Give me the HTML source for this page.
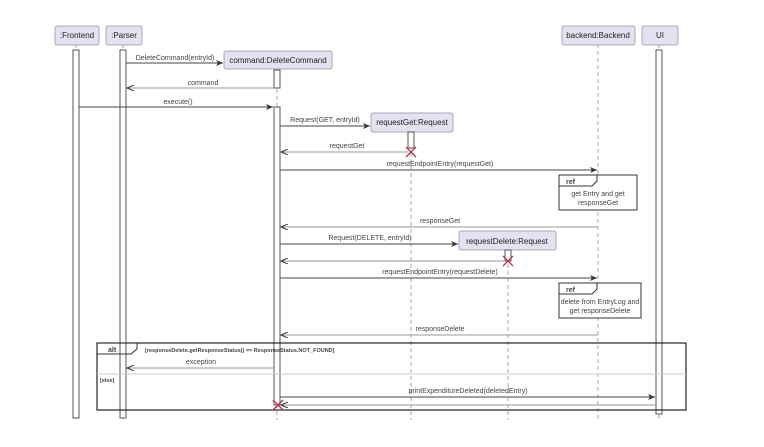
<!DOCTYPE html>
<html><head><meta charset="utf-8"><style>
html,body{margin:0;padding:0;background:#fff;}
svg{display:block;font-family:"Liberation Sans",sans-serif;}
.b{fill:#e2e2f0;stroke:#a8a8b8;stroke-width:1;}
.a{fill:#fff;stroke:#555;stroke-width:1;}
.ll{stroke:#aaa;stroke-width:1;stroke-dasharray:4,3;}
.m{stroke:#444;stroke-width:1;fill:none;}
.r{stroke:#999;stroke-width:1;fill:none;}
text{font-size:7px;fill:#444;}
.t{font-size:8px;fill:#222;}
</style></head><body>
<svg width="764" height="447" viewBox="0 0 764 447">
<defs>
<marker id="ah" markerWidth="8" markerHeight="6" refX="7" refY="3" orient="auto" markerUnits="userSpaceOnUse"><path d="M0,0 L7,3 L0,6 L2,3 Z" fill="#333"/></marker>
<marker id="ao" markerWidth="8" markerHeight="6" refX="7" refY="3" orient="auto" markerUnits="userSpaceOnUse"><path d="M0,0 L7,3 L0,6" fill="none" stroke="#333"/></marker>
</defs>
<line class="ll" x1="76" y1="44" x2="76" y2="420"/>
<line class="ll" x1="123" y1="44" x2="123" y2="420"/>
<line class="ll" x1="277" y1="68" x2="277" y2="420"/>
<line class="ll" x1="411" y1="131" x2="411" y2="420"/>
<line class="ll" x1="508" y1="250" x2="508" y2="420"/>
<line class="ll" x1="598" y1="44" x2="598" y2="420"/>
<line class="ll" x1="659" y1="44" x2="659" y2="420"/>
<rect class="b" x="55" y="26" width="44" height="19" rx="2"/><text class="t" x="77" y="38" text-anchor="middle">:Frontend</text>
<rect class="b" x="106" y="26" width="36" height="19" rx="2"/><text class="t" x="124" y="38" text-anchor="middle">:Parser</text>
<rect class="b" x="562" y="26" width="73" height="19" rx="2"/><text class="t" x="598" y="38" text-anchor="middle">backend:Backend</text>
<rect class="b" x="642" y="26" width="36" height="19" rx="2"/><text class="t" x="660" y="38" text-anchor="middle">UI</text>
<rect class="b" x="224" y="51" width="108" height="18" rx="2"/><text class="t" x="278" y="63" text-anchor="middle">command:DeleteCommand</text>
<rect class="b" x="371" y="113" width="82" height="19" rx="2"/><text class="t" x="412" y="125" text-anchor="middle">requestGet:Request</text>
<rect class="b" x="459" y="231" width="97" height="19" rx="2"/><text class="t" x="507" y="244" text-anchor="middle">requestDelete:Request</text>
<rect class="a" x="73" y="50" width="6" height="368"/>
<rect class="a" x="120" y="50" width="6" height="368"/>
<rect class="a" x="656" y="50" width="6" height="364"/>
<rect class="a" x="274" y="70" width="6" height="18"/>
<rect class="a" x="274" y="107" width="6" height="298"/>
<rect class="a" x="408" y="132" width="6" height="16"/>
<rect class="a" x="505" y="250" width="6" height="11"/>
<line class="m" x1="126" y1="63" x2="223" y2="63" marker-end="url(#ah)"/><text x="175" y="60" text-anchor="middle">DeleteCommand(entryId)</text>
<line class="r" x1="274" y1="88" x2="127" y2="88" marker-end="url(#ao)"/><text x="203" y="85" text-anchor="middle">command</text>
<line class="m" x1="79" y1="107" x2="273" y2="107" marker-end="url(#ah)"/><text x="178" y="104" text-anchor="middle">execute()</text>
<line class="m" x1="280" y1="126" x2="370" y2="126" marker-end="url(#ah)"/><text x="325" y="122" text-anchor="middle">Request(GET, entryId)</text>
<line class="r" x1="408" y1="152" x2="281" y2="152" marker-end="url(#ao)"/><text x="347" y="148" text-anchor="middle">requestGet</text>
<line class="m" x1="280" y1="170" x2="597" y2="170" marker-end="url(#ah)"/><text x="440" y="166" text-anchor="middle">requestEndpointEntry(requestGet)</text>
<line class="r" x1="598" y1="227" x2="281" y2="227" marker-end="url(#ao)"/><text x="440" y="223" text-anchor="middle">responseGet</text>
<line class="m" x1="280" y1="244" x2="458" y2="244" marker-end="url(#ah)"/><text x="370" y="240" text-anchor="middle">Request(DELETE, entryId)</text>
<line class="r" x1="505" y1="261" x2="281" y2="261" marker-end="url(#ao)"/>
<line class="m" x1="280" y1="278" x2="597" y2="278" marker-end="url(#ah)"/><text x="440" y="274" text-anchor="middle">requestEndpointEntry(requestDelete)</text>
<line class="r" x1="598" y1="335" x2="281" y2="335" marker-end="url(#ao)"/><text x="440" y="331" text-anchor="middle">responseDelete</text>
<line class="r" x1="274" y1="368" x2="127" y2="368" marker-end="url(#ao)"/><text x="201" y="364" text-anchor="middle">exception</text>
<line class="m" x1="280" y1="397" x2="655" y2="397" marker-end="url(#ah)"/><text x="468" y="393" text-anchor="middle">printExpenditureDeleted(deletedEntry)</text>
<line class="r" x1="656" y1="405" x2="281" y2="405" marker-end="url(#ao)" stroke="#bbb"/>
<rect x="559" y="175" width="78" height="35" fill="#fff" stroke="#333"/>
<path d="M559,175 L597,175 L597,181 L592,186 L559,186" fill="none" stroke="#333"/>
<text x="566" y="184" style="font-weight:bold">ref</text>
<text x="598" y="196" text-anchor="middle">get Entry and get</text><text x="598" y="205" text-anchor="middle">responseGet</text>
<rect x="559" y="283" width="82" height="35" fill="#fff" stroke="#333"/>
<path d="M559,283 L597,283 L597,289 L592,294 L559,294" fill="none" stroke="#333"/>
<text x="566" y="292" style="font-weight:bold">ref</text>
<text x="600" y="304" text-anchor="middle">delete from EntryLog and</text><text x="600" y="313" text-anchor="middle">get responseDelete</text>
<rect x="97" y="343" width="589" height="67" fill="none" stroke="#222" stroke-width="1.2"/>
<path d="M97,343 L137,343 L137,349 L131,354 L97,354" fill="none" stroke="#333"/>
<text x="108" y="352" style="font-weight:bold">alt</text>
<text x="145" y="352" style="font-size:5.5px;font-weight:bold">[responseDelete.getResponseStatus() == ResponseStatus.NOT_FOUND]</text>
<line x1="97" y1="374" x2="686" y2="374" stroke="#ccc"/>
<text x="100" y="382" style="font-size:5.5px;font-weight:bold">[else]</text>
<g stroke="#c0304a" stroke-width="1.3">
<path d="M406,147 L416,157 M416,147 L406,157"/>
<path d="M503,256 L513,266 M513,256 L503,266"/>
<path d="M273,400 L283,410 M283,400 L273,410"/>
</g>
</svg>
</body></html>
